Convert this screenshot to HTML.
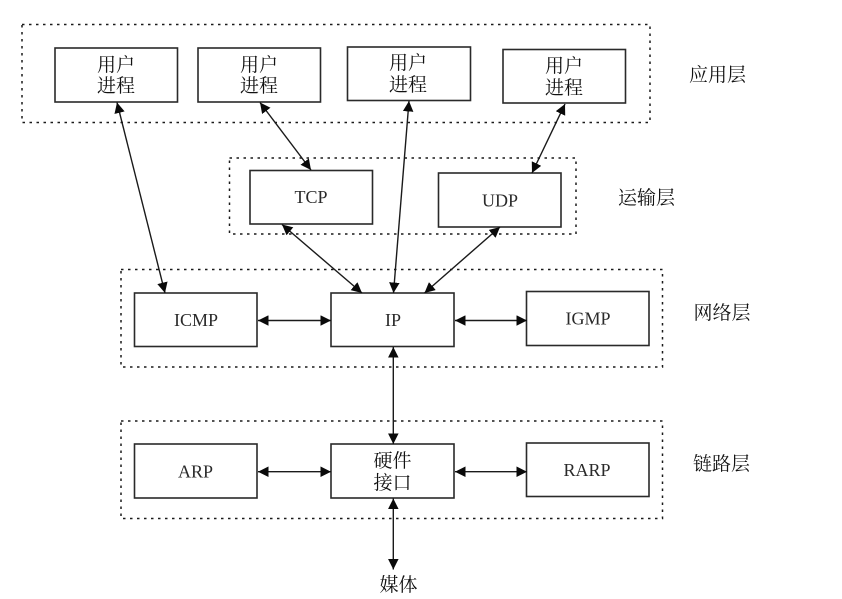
<!DOCTYPE html>
<html lang="zh">
<head>
<meta charset="utf-8">
<style>
html,body{margin:0;padding:0;background:#fff;width:842px;height:599px;overflow:hidden}
svg{display:block}
text{fill:#2a2a2a;font-family:"Liberation Serif","Noto Sans CJK SC",serif;font-size:18px;text-anchor:middle}
.c{font-family:"Liberation Serif","Noto Serif CJK SC",serif;font-size:19px;fill:#111}
.d{fill:none;stroke:#1a1a1a;stroke-width:1.5;stroke-dasharray:2.5 4.5}
.b{fill:#fff;stroke:#2a2a2a;stroke-width:1.6}
.l{stroke:#1a1a1a;stroke-width:1.4;fill:none}
.h{fill:#0a0a0a}
</style>
</head>
<body>
<svg width="842" height="599" viewBox="0 0 842 599" xmlns="http://www.w3.org/2000/svg">
<defs>
<marker id="a" viewBox="0 0 10 10" refX="10" refY="5" markerWidth="10.5" markerHeight="10.5" markerUnits="userSpaceOnUse" orient="auto-start-reverse">
<path class="h" d="M0 0 L10 5 L0 10 Z"/>
</marker>
</defs>
<rect class="d" x="22" y="24.5" width="628" height="98"/>
<rect class="d" x="229.5" y="158" width="346.5" height="76"/>
<rect class="d" x="121" y="269.5" width="541.5" height="97.5"/>
<rect class="d" x="121" y="421" width="541.5" height="97.5"/>

<rect class="b" x="55" y="48" width="122.5" height="54"/>
<rect class="b" x="198" y="48" width="122.5" height="54"/>
<rect class="b" x="347.5" y="47" width="123" height="53.5"/>
<rect class="b" x="503" y="49.5" width="122.5" height="53.5"/>
<rect class="b" x="250" y="170.5" width="122.5" height="53.5"/>
<rect class="b" x="438.5" y="173" width="122.5" height="54"/>
<rect class="b" x="134.5" y="293" width="122.5" height="53.5"/>
<rect class="b" x="331" y="293" width="123" height="53.5"/>
<rect class="b" x="526.5" y="291.5" width="122.5" height="54"/>
<rect class="b" x="134.5" y="444" width="122.5" height="54"/>
<rect class="b" x="331" y="444" width="123" height="54"/>
<rect class="b" x="526.5" y="443" width="122.5" height="53.5"/>

<g class="l" marker-start="url(#a)" marker-end="url(#a)">
<line x1="117" y1="102.5" x2="165" y2="293"/>
<line x1="260" y1="102.5" x2="311" y2="170"/>
<line x1="409" y1="101" x2="393.5" y2="293"/>
<line x1="565" y1="104" x2="532" y2="173"/>
<line x1="282" y1="224.5" x2="362" y2="293"/>
<line x1="500" y1="227" x2="424.5" y2="293"/>
<line x1="258" y1="320.5" x2="331" y2="320.5"/>
<line x1="455" y1="320.5" x2="527" y2="320.5"/>
<line x1="393.3" y1="347" x2="393.3" y2="444"/>
<line x1="258" y1="471.7" x2="331" y2="471.7"/>
<line x1="455" y1="471.7" x2="527" y2="471.7"/>
<line x1="393.3" y1="498.5" x2="393.3" y2="569.5"/>
</g>

<text class="c" x="116" y="71">用户</text>
<text class="c" x="116" y="92">进程</text>
<text class="c" x="259" y="71">用户</text>
<text class="c" x="259" y="92">进程</text>
<text class="c" x="408" y="69">用户</text>
<text class="c" x="408" y="91">进程</text>
<text class="c" x="564" y="72">用户</text>
<text class="c" x="564" y="94">进程</text>

<text x="311" y="203">TCP</text>
<text x="500" y="206.5">UDP</text>
<text x="196" y="326">ICMP</text>
<text x="393" y="326">IP</text>
<text x="588" y="324.5">IGMP</text>
<text x="195.5" y="477.5">ARP</text>
<text x="587" y="476">RARP</text>

<text class="c" x="392.5" y="467">硬件</text>
<text class="c" x="392.5" y="489">接口</text>
<text class="c" x="398.5" y="591">媒体</text>

<text class="c" x="717.5" y="81">应用层</text>
<text class="c" x="646.5" y="204">运输层</text>
<text class="c" x="722" y="319">网络层</text>
<text class="c" x="721.5" y="470">链路层</text>
</svg>
</body>
</html>
